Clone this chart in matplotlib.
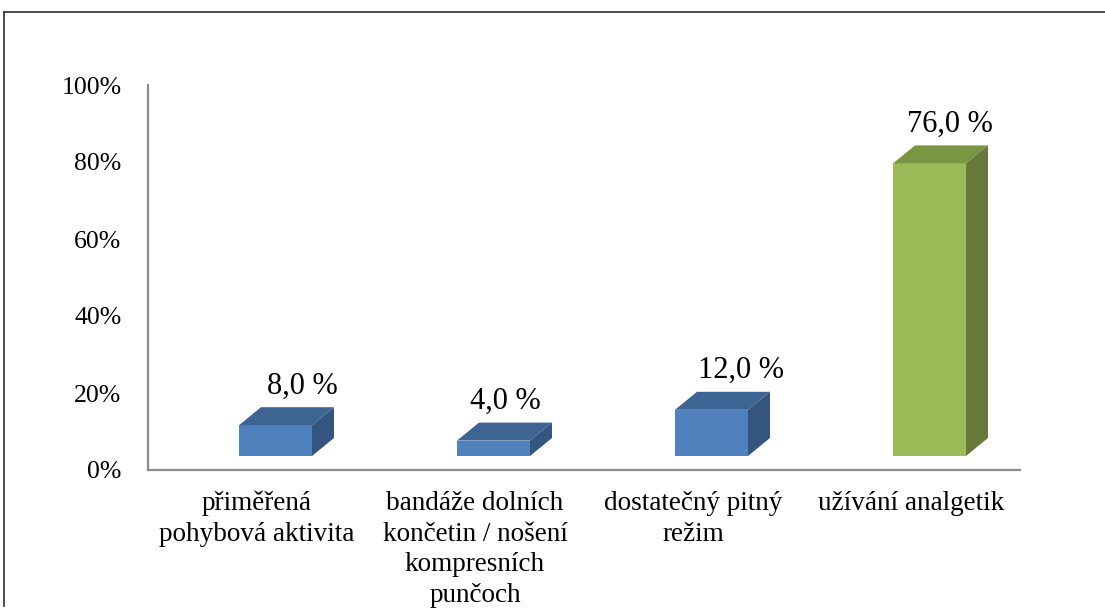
import numpy as np
import matplotlib.pyplot as plt
from matplotlib.lines import Line2D
from matplotlib.ticker import FuncFormatter

plt.rcParams['font.family'] = ['Liberation Serif', 'DejaVu Serif']

# Data
categories = [
    "přiměřená\npohybová aktivita",
    "bandáže dolních\nkončetin / nošení\nkompresních\npunčoch",
    "dostatečný pitný\nrežim",
    "užívání analgetik",
]
values = [8.0, 4.0, 12.0, 76.0]
highlight = [False, False, False, True]

# face colours: front, top, side
blue_faces = ('#4F81BD', '#3E6494', '#34557F')
green_faces = ('#9BBB59', '#7A9642', '#66793A')

# horizontal nudge of each value label (pixels)
label_nudge = [27, 12, 30, 20]

W, H = 1105, 609
fig = plt.figure(figsize=(W / 100, H / 100), dpi=100)

# plot area in pixels
x0, x1 = 148, 1020
y0, y1 = 470, 85
ax = fig.add_axes([x0 / W, 1 - y0 / H, (x1 - x0) / W, (y0 - y1) / H])
ax.set_xlim(0, len(categories))
ax.set_ylim(0, 100)

px_x = (x1 - x0) / len(categories)   # pixels per category
px_y = (y0 - y1) / 100.0             # pixels per percent

# 3D box geometry (in data units)
base = 14 / px_y
width = 73 / px_x
shift = 18.5 / px_x
dx = 22 / px_x
dy = 18 / px_y

for i, (v, hl) in enumerate(zip(values, highlight)):
    front, top, side = green_faces if hl else blue_faces
    xl = i + 0.5 + shift - width / 2
    xr = xl + width
    yb = base
    yt = base + v
    ax.fill([xl, xr, xr, xl], [yb, yb, yt, yt], color=front, lw=0, clip_on=False, zorder=3)
    ax.fill([xl, xr, xr + dx, xl + dx], [yt, yt, yt + dy, yt + dy], color=top, lw=0, clip_on=False, zorder=3)
    ax.fill([xr, xr + dx, xr + dx, xr], [yb, yb + dy, yt + dy, yt], color=side, lw=0, clip_on=False, zorder=3)
    label = f"{v:.1f}".replace('.', ',') + " %"
    ax.text(i + 0.5 + shift + label_nudge[i] / px_x, yt + dy + 21 / px_y, label,
            ha='center', va='center', fontsize=22, color='black', zorder=4)

ax.set_xticks(np.arange(len(categories)) + 0.5)
ax.set_xticklabels(categories, fontsize=19.5, linespacing=1.3, multialignment='center')
ax.yaxis.set_major_formatter(FuncFormatter(lambda y, _: f"{int(y)}%"))
ax.set_yticks(np.arange(0, 101, 20))
ax.tick_params(axis='y', length=0, pad=19, labelsize=18.5)
ax.tick_params(axis='x', length=0, pad=15)

for s in ['top', 'right']:
    ax.spines[s].set_visible(False)
for s in ['left', 'bottom']:
    ax.spines[s].set_color('#8C8C8C')
    ax.spines[s].set_linewidth(1.6)

# outer chart frame (top and left edges)
fig.add_artist(Line2D([4 / W, 1], [1 - 12 / H, 1 - 12 / H], color='#2b2b2b', lw=1.2,
                      transform=fig.transFigure))
fig.add_artist(Line2D([4 / W, 4 / W], [1 - 12 / H, 0.005], color='#2b2b2b', lw=1.2,
                      transform=fig.transFigure))

fig.savefig('out.png', dpi=100)
